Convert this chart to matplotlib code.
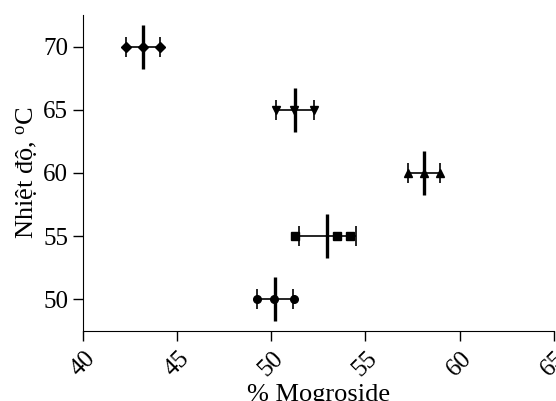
import numpy as np
import matplotlib
matplotlib.use('Agg')
import matplotlib.pyplot as plt

plt.rcParams['font.family'] = ['Liberation Serif', 'DejaVu Serif']
plt.rcParams['mathtext.fontset'] = 'custom'
plt.rcParams['mathtext.rm'] = 'Liberation Serif'

# nhiet do va ba lan lap % mogroside
nhiet_do = [50, 55, 60, 65, 70]
lan_1 = [49.25, 51.28, 57.28, 50.28, 42.28]
lan_2 = [50.14, 53.48, 58.10, 51.22, 43.20]
lan_3 = [51.20, 54.17, 58.95, 52.28, 44.08]
markers = ['o', 's', '^', 'v', 'D']

reps = np.array([lan_1, lan_2, lan_3])
tb = reps.mean(axis=0)
sd = reps.std(axis=0, ddof=1)

fig = plt.figure(figsize=(5.56, 4.01), dpi=100)
ax = fig.add_axes([0.149, 0.1746, 0.847, 0.788])

ax.errorbar(tb, nhiet_do, xerr=sd, fmt='none', ecolor='k', elinewidth=1.2,
            capsize=7.5, capthick=1.2, zorder=2)
for i, t in enumerate(nhiet_do):
    ax.plot(reps[:, i], [t] * 3, linestyle='none', marker=markers[i],
            color='k', markersize=5.5 if markers[i] != 'D' else 5, zorder=3)
ax.plot(tb, nhiet_do, linestyle='none', marker='|', color='k',
        markersize=31, markeredgewidth=2.4, zorder=4)

ax.set_xlim(40, 65)
ax.set_ylim(47.5, 72.5)
ax.set_xticks([40, 45, 50, 55, 60, 65])
ax.set_yticks([50, 55, 60, 65, 70])
ax.tick_params(labelsize=18, length=7, width=1, direction='out')
ax.tick_params(axis='x', pad=5)
for lbl in ax.get_xticklabels():
    lbl.set_rotation(45)
    lbl.set_ha('center')
    lbl.set_va('top')
ax.spines['top'].set_visible(False)
ax.spines['right'].set_visible(False)
ax.set_xlabel('% Mogroside', fontsize=19, labelpad=2)
ax.set_ylabel(r'Nhiệt độ, $\mathregular{^{o}}$C', fontsize=19, labelpad=2)

fig.savefig('out.png', dpi=100)
